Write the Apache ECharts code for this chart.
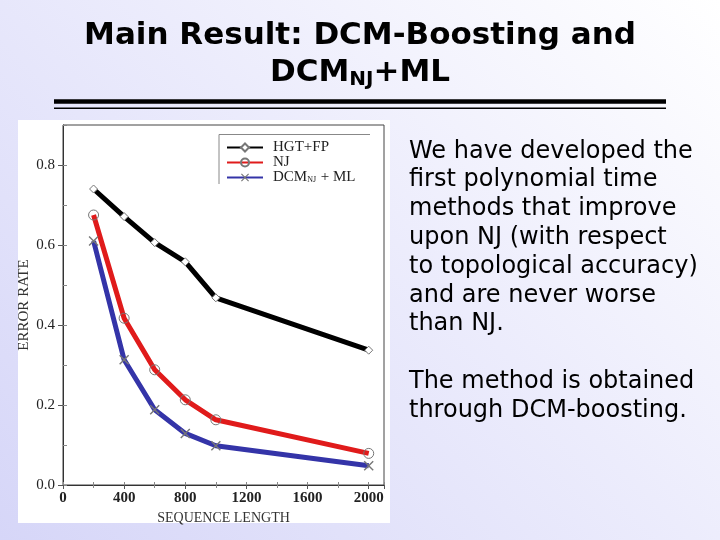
<!DOCTYPE html>
<html>
<head>
<meta charset="utf-8">
<script src="https://cdn.jsdelivr.net/npm/echarts@6/dist/echarts.min.js"></script>
<style>
html,body{margin:0;padding:0;}
body{width:720px;height:540px;background:linear-gradient(225deg,#ffffff 0%,#ececfc 45%,#d6d6f8 100%);}
#main{width:720px;height:540px;}
</style>
</head>
<body>
<div id="main"></div>
<script>
// sequence length values on the x axis
var seqLength = [200, 400, 600, 800, 1000, 2000];
// error rates
var hgtFp = [0.740, 0.671, 0.606, 0.558, 0.468, 0.337];
var nj = [0.675, 0.417, 0.288, 0.213, 0.163, 0.079];
var dcmNjMl = [0.610, 0.313, 0.188, 0.129, 0.098, 0.048];
var seriesNames = ['HGT+FP', 'NJ', 'DCM_NJ + ML'];

var bodyLines = [
	'We have developed the',
	'first polynomial time',
	'methods that improve',
	'upon NJ (with respect',
	'to topological accuracy)',
	'and are never worse',
	'than NJ.',
	'',
	'The method is obtained',
	'through DCM-boosting.'
];

function pairs(ys){
	var out = [];
	for(var i = 0;i < seqLength.length;i ++){
		out.push([seqLength[i], ys[i]]);
	}
	return out;
}

var crossPath = 'path://M0,1L1,0L5,4L9,0L10,1L6,5L10,9L9,10L5,6L1,10L0,9L4,5Z';
var serifFont = '"Liberation Serif", "DejaVu Serif", serif';
var titleFont = '"DejaVu Sans", Verdana, sans-serif';
var shadow = {textShadowColor:'#9a9a9a',textShadowOffsetX:2,textShadowOffsetY:2};

function titleStyle(size, extra){
	var s = {fontFamily:titleFont,fontWeight:'bold',fontSize:size,lineHeight:37,color:'#000'};
	for(var k in shadow){ s[k] = shadow[k]; }
	for(var k2 in extra || {}){ s[k2] = extra[k2]; }
	return s;
}

var chart = echarts.init(document.getElementById('main'));
chart.setOption({
	backgroundColor:'transparent',
	animation:false,
	title:[
		{
			text:'Main Result: DCM-Boosting and',
			left:'center',
			top:17,
			padding:0,
			textStyle:titleStyle(31)
		},
		{
			text:'{a|DCM}{s|NJ}{a|+ML}',
			left:'center',
			top:54,
			padding:0,
			textStyle:{
				rich:{
					a:titleStyle(31),
					s:titleStyle(20,{padding:[14,0,0,0]})
				}
			}
		},
		{
			text:bodyLines.join('\n'),
			left:409,
			top:137,
			padding:0,
			textStyle:{
				fontFamily:'"DejaVu Sans", Verdana, sans-serif',
				fontWeight:'normal',
				fontSize:24,
				lineHeight:28.8,
				color:'#000'
			}
		}
	],
	graphic:[
		{type:'rect',z:-10,shape:{x:18,y:120,width:372,height:403},style:{fill:'#fff'}},
		{type:'line',shape:{x1:54,y1:101.5,x2:666,y2:101.5},style:{stroke:'#000',lineWidth:4.5}},
		{type:'line',shape:{x1:54,y1:108.3,x2:666,y2:108.3},style:{stroke:'#000',lineWidth:1.5}},
		// legend frame, only top and left edges are visible
		{type:'polyline',shape:{points:[[219,184],[219,134.5],[370,134.5]]},style:{stroke:'#888',lineWidth:1,fill:null}}
	],
	legend:{
		orient:'vertical',
		left:226,
		top:140,
		padding:0,
		itemWidth:36,
		itemHeight:10,
		itemGap:0,
		data:seriesNames,
		textStyle:{
			fontFamily:serifFont,
			fontSize:15,
			lineHeight:12,
			color:'#222',
			padding:[0,0,0,5],
			rich:{
				a:{fontFamily:serifFont,fontSize:15,lineHeight:12,color:'#222'},
				s:{fontFamily:serifFont,fontSize:8,lineHeight:12,color:'#222',padding:[5,1,0,0]}
			}
		},
		formatter:function(name){
			if(name == 'DCM_NJ + ML'){
				return '{a|DCM}{s|NJ}{a| + ML}';
			}
			return name;
		}
	},
	grid:{
		left:63,
		right:336,
		top:125,
		bottom:55,
		show:true,
		borderColor:'#444',
		borderWidth:1
	},
	xAxis:[
		{
			type:'value',
			min:0,
			max:2100,
			interval:400,
			name:'SEQUENCE LENGTH',
			nameLocation:'middle',
			nameGap:15,
			nameTextStyle:{fontFamily:serifFont,fontSize:14,color:'#333'},
			axisLine:{lineStyle:{color:'#333'}},
			axisTick:{length:4,lineStyle:{color:'#555'}},
			minorTick:{show:true,splitNumber:2,length:3,lineStyle:{color:'#888'}},
			splitLine:{show:false},
			axisLabel:{
				showMaxLabel:false,
				margin:6,
				fontFamily:serifFont,
				fontWeight:'bold',
				fontSize:15,
				color:'#222',
				formatter:function(v){ return String(v); }
			}
		},
		{
			type:'value',
			position:'top',
			min:0,
			max:2100,
			interval:200,
			axisLine:{show:false},
			axisTick:{length:3,lineStyle:{color:'#888'}},
			axisLabel:{show:false},
			splitLine:{show:false}
		}
	],
	yAxis:[
		{
			type:'value',
			min:0,
			max:0.9,
			interval:0.2,
			name:'ERROR RATE',
			nameLocation:'middle',
			nameGap:31,
			nameTextStyle:{fontFamily:serifFont,fontSize:15,color:'#333'},
			axisLine:{show:true,lineStyle:{color:'#333'}},
			axisTick:{show:true,length:5,lineStyle:{color:'#555'}},
			splitLine:{show:false},
			axisLabel:{
				showMaxLabel:false,
				margin:8,
				fontFamily:serifFont,
				fontSize:15,
				color:'#222',
				formatter:function(v){ return v.toFixed(1); }
			}
		},
		{
			type:'value',
			position:'right',
			min:0,
			max:0.9,
			interval:0.1,
			axisLine:{show:false},
			axisTick:{show:true,length:4,lineStyle:{color:'#888'}},
			axisLabel:{show:false},
			splitLine:{show:false}
		}
	],
	series:[
		{
			name:'HGT+FP',
			type:'line',
			data:pairs(hgtFp),
			symbol:'diamond',
			symbolSize:8,
			lineStyle:{color:'#000',width:5},
			itemStyle:{color:'#fff',borderColor:'#777',borderWidth:1}
		},
		{
			name:'NJ',
			type:'line',
			data:pairs(nj),
			symbol:'circle',
			symbolSize:10,
			lineStyle:{color:'#e01b1b',width:5},
			itemStyle:{color:'rgba(0,0,0,0)',borderColor:'#777',borderWidth:1}
		},
		{
			name:'DCM_NJ + ML',
			type:'line',
			data:pairs(dcmNjMl),
			symbol:crossPath,
			symbolSize:10,
			lineStyle:{color:'#3434a8',width:5},
			itemStyle:{color:'#777'}
		}
	]
});
</script>
</body>
</html>
